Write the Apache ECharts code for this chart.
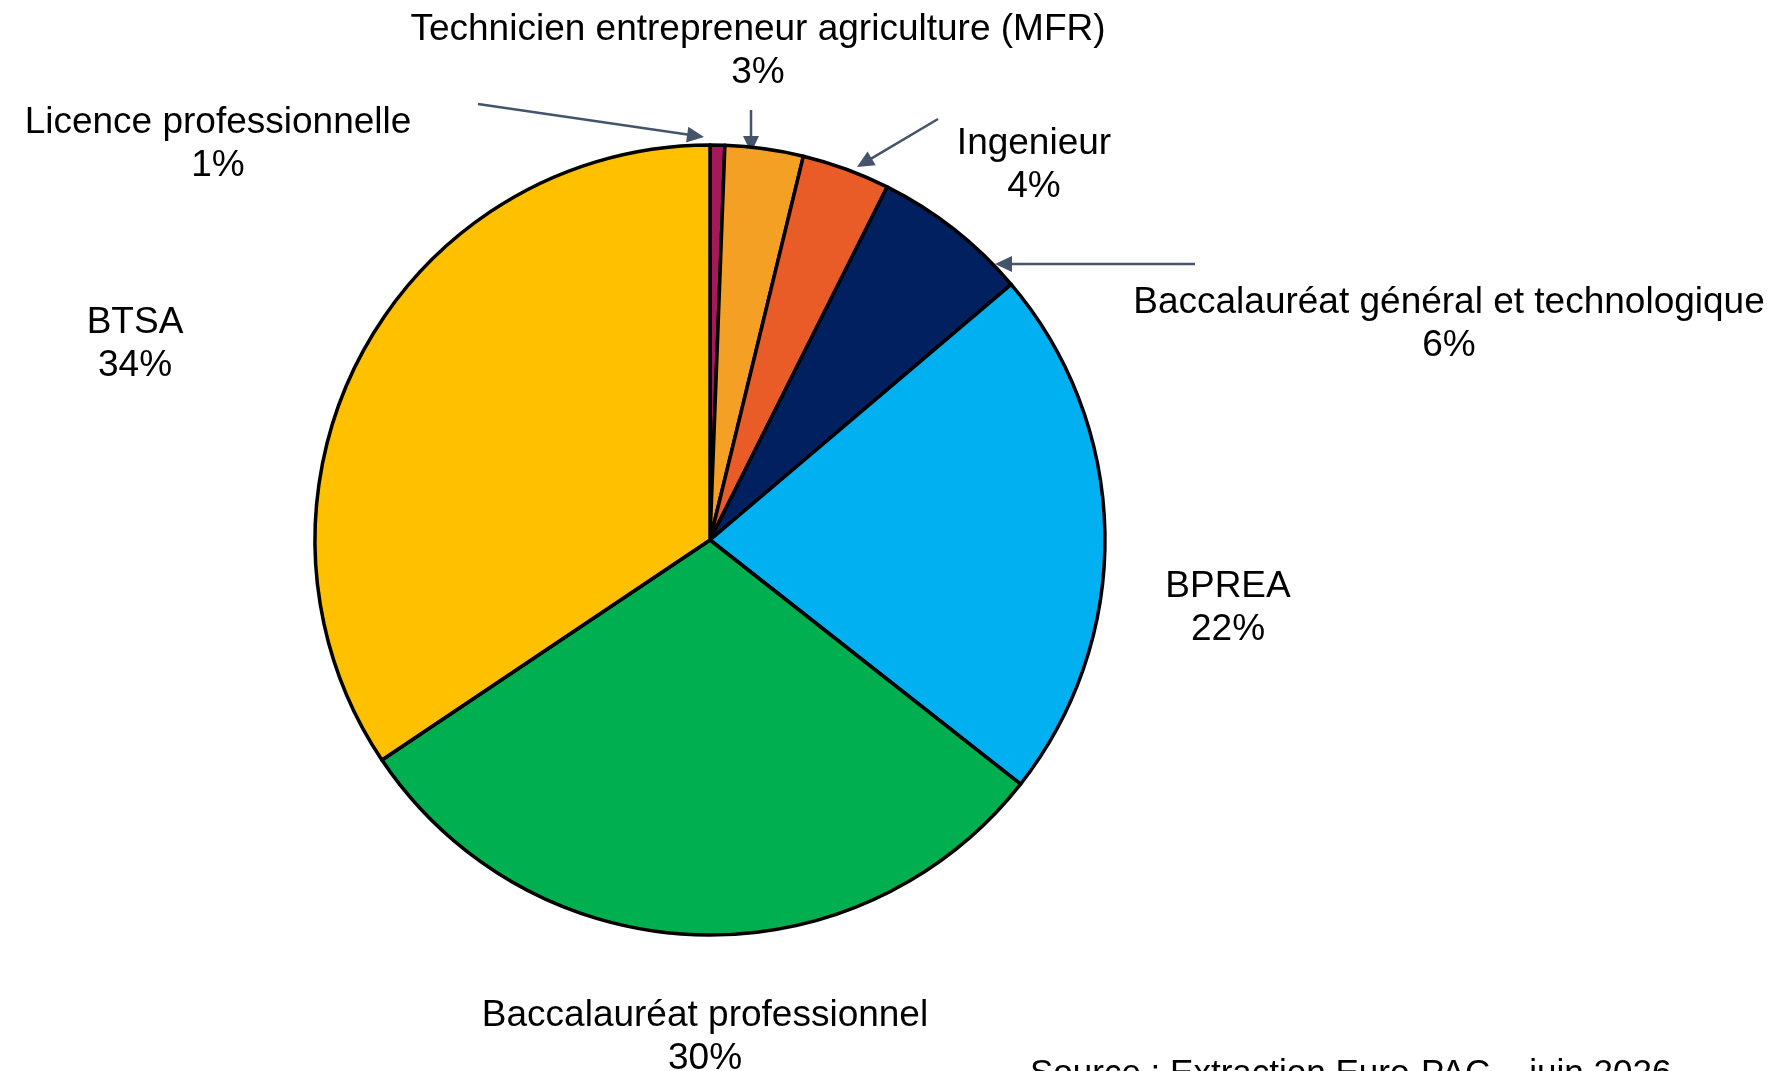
<!DOCTYPE html>
<head>
<meta charset="utf-8">
<title>ECharts</title>
<style>
  html, body { margin: 0; padding: 0; background: #fff; }
  #home { width: 1789px; height: 1071px; }
</style>
</head>
<body>
<div id="home"></div>
<script src="https://cdn.jsdelivr.net/npm/echarts@6/dist/echarts.min.js"></script>
<script>
// data
var names = [
    'Licence professionnelle',
    'Technicien entrepreneur agriculture (MFR)',
    'Ingenieur',
    'Baccalauréat général et technologique',
    'BPREA',
    'Baccalauréat professionnel',
    'BTSA'
];
var values = [0.6, 3.2, 3.6, 6.4, 21.8, 30.0, 34.4];
var colors = ['#A5195B', '#F4A025', '#E95B27', '#002060', '#00B0F0', '#00B050', '#FFC000'];

// where each label sits (centre of text block)
var labelPos = [
    [218, 144], [758, 51], [1034, 165], [1449, 324],
    [1228, 608], [705, 1037], [135, 344]
];
// arrows from label toward small slices: [x1, y1, x2, y2]
var arrows = [
    [478, 104, 704, 137],
    [751, 110, 751, 153],
    [938, 119, 857, 167],
    [1195, 264, 995, 264]
];

var myChart = echarts.init(document.getElementById('home'));

function arrow(a) {
    var dx = a[2] - a[0], dy = a[3] - a[1];
    var len = Math.sqrt(dx * dx + dy * dy);
    var ux = dx / len, uy = dy / len;
    var hl = 17, hw = 8;
    var bx = a[2] - ux * hl, by = a[3] - uy * hl;
    return [{
        type: 'line',
        shape: { x1: a[0], y1: a[1], x2: bx + ux * 2, y2: by + uy * 2 },
        style: { stroke: '#44546A', lineWidth: 2.5 }
    }, {
        type: 'polygon',
        shape: { points: [[a[2], a[3]], [bx - uy * hw, by + ux * hw], [bx + uy * hw, by - ux * hw]] },
        style: { fill: '#44546A' }
    }];
}

var graphics = [];
arrows.forEach(function (a) { graphics = graphics.concat(arrow(a)); });
graphics.push({
    type: 'text',
    left: 1030,
    top: 1057,
    style: {
        text: 'Source : Extraction Euro-PAC – juin 2026',
        font: '35px "Liberation Sans", Arial, sans-serif',
        fill: '#000'
    }
});

var data = [];
for (var i = 0; i < names.length; i++) {
    data.push({ name: names[i], value: values[i], itemStyle: { color: colors[i] } });
}

myChart.setOption({
    animation: false,
    backgroundColor: '#fff',
    graphic: graphics,
    series: [{
        type: 'pie',
        center: [710, 540],
        radius: 395,
        startAngle: 90,
        clockwise: true,
        avoidLabelOverlap: false,
        data: data,
        itemStyle: { borderColor: '#000', borderWidth: 3.5 },
        label: {
            show: true,
            position: 'outside',
            color: '#000',
            fontSize: 37,
            lineHeight: 43,
            fontFamily: '"Liberation Sans", Arial, sans-serif',
            align: 'center',
            formatter: function (p) {
                return p.name + '\n' + Math.round(p.percent) + '%';
            }
        },
        labelLine: { show: false },
        labelLayout: function (p) {
            var pos = labelPos[p.dataIndex];
            return { x: pos[0], y: pos[1], align: 'center', verticalAlign: 'middle' };
        }
    }]
});
</script>
</body>
</html>
